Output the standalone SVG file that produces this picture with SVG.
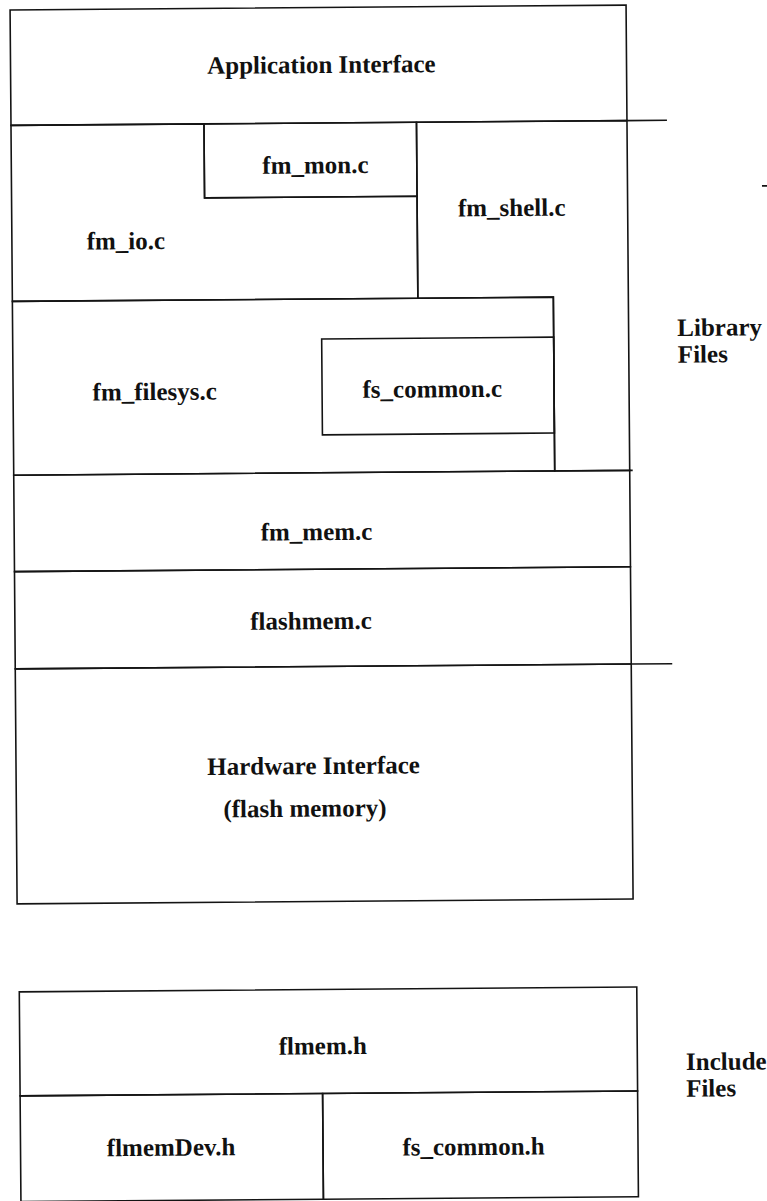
<svg xmlns="http://www.w3.org/2000/svg" width="767" height="1201" viewBox="0 0 767 1201">
<style>
.box{fill:none;stroke:#141414;stroke-width:1.6}
.ln{stroke:#141414;stroke-width:1.6;fill:none}
.t{font-family:"Liberation Serif","Times New Roman",serif;font-weight:bold;font-size:25px;fill:#111}
.c{text-anchor:middle}
</style>
<rect width="767" height="1201" fill="#fff"/>
<g transform="rotate(-0.45)">
<g id="app-interface">
<rect class="box" x="10" y="10" width="616" height="115.5"/>
<text class="t c" x="320.9" y="75.5">Application Interface</text>
</g>
<g id="fm_mon">
<rect class="box" x="203" y="125.5" width="212.5" height="74"/>
<text class="t c" x="314.1" y="175.8">fm_mon.c</text>
</g>
<g id="fm_io">
<path class="box" d="M10 125.5 H203 V199.5 H415.5 V301.5 H10 Z"/>
<text class="t c" x="123.9" y="250.3">fm_io.c</text>
</g>
<g id="fm_shell">
<path class="box" d="M415.5 125.5 H626 V475.3 H551 V301.5 H415.5 Z"/>
<text class="t c" x="510" y="220">fm_shell.c</text>
</g>
<g id="fm_filesys">
<rect class="box" x="10" y="301.5" width="541" height="173.8"/>
<text class="t c" x="151.6" y="401.2">fm_filesys.c</text>
</g>
<g id="fs_common_c">
<rect class="box" x="319" y="341.5" width="232" height="95.9"/>
<text class="t c" x="429.2" y="400.7">fs_common.c</text>
</g>
<g id="fm_mem">
<rect class="box" x="10" y="475.3" width="616" height="96.4"/>
<text class="t c" x="312.3" y="542.5">fm_mem.c</text>
</g>
<g id="flashmem">
<rect class="box" x="10" y="571.7" width="616" height="97.3"/>
<text class="t c" x="306.1" y="631.7">flashmem.c</text>
</g>
<g id="hardware-interface">
<rect class="box" x="10" y="669" width="616" height="235"/>
<text class="t c" x="307.5" y="776.5">Hardware Interface</text>
<text class="t c" x="298.6" y="819.1">(flash memory)</text>
</g>
<g id="library-label">
<text class="t" x="674.7" y="341.3">Library</text>
<text class="t" x="675" y="368">Files</text>
</g>
<g id="flmem_h">
<rect class="box" x="11.5" y="992" width="617.5" height="104"/>
<text class="t c" x="314.5" y="1056.8">flmem.h</text>
</g>
<g id="flmemDev_h">
<rect class="box" x="11.5" y="1096" width="302.5" height="105.7"/>
<text class="t c" x="162" y="1157">flmemDev.h</text>
</g>
<g id="fs_common_h">
<rect class="box" x="314" y="1096" width="315" height="105.7"/>
<text class="t c" x="464.5" y="1158.7">fs_common.h</text>
</g>
<g id="include-label">
<text class="t" x="677.7" y="1075.4">Include</text>
<text class="t" x="677.5" y="1102">Files</text>
</g>
<g id="connectors">
<line class="ln" x1="626" y1="125.5" x2="666" y2="125.5"/>
<line class="ln" x1="626" y1="475.3" x2="629" y2="475.3"/>
<line class="ln" x1="626" y1="669" x2="667" y2="669"/>
<line class="ln" x1="760.5" y1="191.9" x2="770" y2="191.9"/>
</g>
</g>
</svg>
